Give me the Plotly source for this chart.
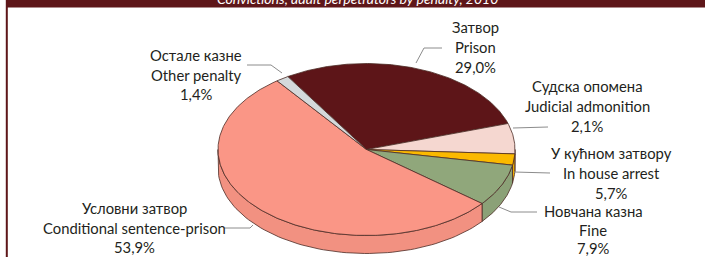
import numpy as np
import plotly.graph_objects as go

# ---------------- data ----------------
title_text = "Convictions, adult perpetrators by penalty, 2010"
slice_names = ["Затвор / Prison", "Судска опомена / Judicial admonition",
               "У кућном затвору / In house arrest", "Новчана казна / Fine",
               "Условни затвор / Conditional sentence-prison", "Остале казне / Other penalty"]
slice_values = [29.0, 5.7, 2.1, 7.9, 53.9, 1.4]          # slice sizes as drawn
slice_colors = ["#5D1518", "#F5D7D0", "#FBB900", "#90A77B", "#FA9686", "#D4D9DB"]

label_cyr = ["Затвор", "Судска опомена", "У кућном затвору", "Новчана казна",
             "Условни затвор", "Остале казне"]
label_en = ["Prison", "Judicial admonition", "In house arrest", "Fine",
            "Conditional sentence-prison", "Other penalty"]
label_pct = ["29,0%", "2,1%", "5,7%", "7,9%", "53,9%", "1,4%"]

# ---------------- layout / geometry ----------------
W, H = 705, 257
CX, CY, RX, RY, DEPTH = 366.5, 149.5, 148.5, 86.0, 18.0
START = 122.0  # degrees, slices run clockwise

label_pos = [(475, 27), (587, 86), (611, 153), (593, 211), (134, 208), (196, 55)]
line_gaps = [20.0, 20.0, 20.0, 18.6, 19.6, 19.6]
leaders = [
    [(416, 63), (424, 48), (442, 48)],
    [(513, 128), (548, 127)],
    [(514, 172), (550, 173)],
    [(499, 207), (511, 212), (537, 212)],
    [(224, 228), (250, 228), (253, 225)],
    [(247, 65), (271, 65), (282, 73)],
]

OUTLINE = "#4d2c26"
FONT = "Lato"
TXT = "#231f20"
BANNER = "#5E1619"


def darken(hexc, f=0.97):
    h = hexc.lstrip("#")
    r, g, b = (int(h[i:i + 2], 16) for i in (0, 2, 4))
    return "#%02x%02x%02x" % (int(r * f), int(g * f), int(b * f))


def ell(t_deg, dy=0.0):
    t = np.radians(t_deg)
    return CX + RX * np.cos(t), CY - RY * np.sin(t) + dy


fig = go.Figure()

# cumulative angles
bounds = []
a = START
for v in slice_values:
    b = a - 3.6 * v
    bounds.append((a, b))
    a = b

# side faces (front half: angles in [-180, 0])
for (a0, a1), col in zip(bounds, slice_colors):
    hi = min(a0, 0.0)
    lo = max(a1, -180.0)
    if hi <= lo:
        continue
    ts = np.linspace(hi, lo, 80)
    xt, yt = ell(ts)
    xb, yb = ell(ts[::-1], DEPTH)
    xs = np.concatenate([xt, xb, xt[:1]])
    ys = np.concatenate([yt, yb, yt[:1]])
    fig.add_trace(go.Scatter(x=xs, y=ys, mode="lines", fill="toself",
                             fillcolor=darken(col), line=dict(color=OUTLINE, width=0.8),
                             hoverinfo="skip", showlegend=False))

# top faces
for (a0, a1), col, name in zip(bounds, slice_colors, slice_names):
    ts = np.linspace(a0, a1, max(4, int(abs(a0 - a1) * 1.5)))
    xa, ya = ell(ts)
    xs = np.concatenate([[CX], xa, [CX]])
    ys = np.concatenate([[CY], ya, [CY]])
    fig.add_trace(go.Scatter(x=xs, y=ys, mode="lines", fill="toself",
                             fillcolor=col, line=dict(color=OUTLINE, width=0.8),
                             name=name, hoverinfo="name", showlegend=False))

# leader lines
for pts in leaders:
    path = "M " + " L ".join(f"{x},{y}" for x, y in pts)
    fig.add_shape(type="path", path=path, xref="x", yref="y",
                  line=dict(color="#8c8c8c", width=1))

# labels
for (x, y), gap, c, e, p in zip(label_pos, line_gaps, label_cyr, label_en, label_pct):
    for i, t in enumerate([c, e, p]):
        fig.add_annotation(x=x, y=y + i * gap, text=t, showarrow=False,
                           xanchor="center", yanchor="middle", xref="x", yref="y",
                           font=dict(family=FONT, size=14.8, color=TXT))

# banner + left border
fig.add_shape(type="rect", xref="x", yref="y", x0=6, x1=W + 5, y0=-5, y1=7.5,
              fillcolor=BANNER, line=dict(width=0), layer="above")
fig.add_shape(type="line", xref="x", yref="y", x0=6.8, x1=6.8, y0=0, y1=H + 5,
              line=dict(color=BANNER, width=2), layer="above")
fig.add_annotation(x=358 / W, y=1 + 1.2 / H, text=title_text, showarrow=False,
                   xref="paper", yref="paper", xanchor="center", yanchor="middle",
                   font=dict(family=FONT, size=14, color="white", style="italic"))

fig.update_xaxes(range=[0, W], visible=False, fixedrange=True)
fig.update_yaxes(range=[H, 0], visible=False, fixedrange=True)
fig.update_layout(width=W, height=H, autosize=False,
                  margin=dict(l=0, r=0, t=0, b=0, pad=0),
                  paper_bgcolor="white", plot_bgcolor="white")

fig.write_html("out.html", config={"displayModeBar": False},
               post_script="document.body.style.margin='0';"
                           "document.body.style.padding='0';"
                           "document.body.style.overflow='hidden';")
